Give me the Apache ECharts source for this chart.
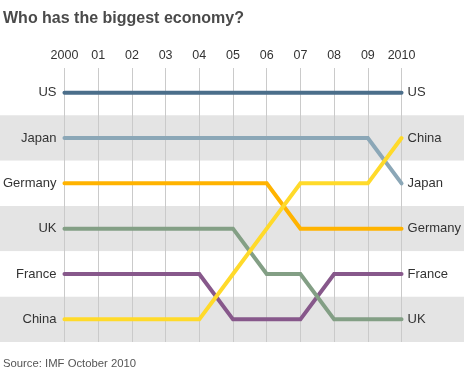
<!DOCTYPE html>
<html>
<head>
<meta charset="utf-8">
<script src="https://cdn.jsdelivr.net/npm/echarts@6/dist/echarts.min.js"></script>
<style>
  html, body { margin: 0; padding: 0; background: #fff; }
  #chart { width: 464px; height: 375px; }
</style>
</head>
<body>
<div id="chart"></div>
<script>
// x axis labels
var years = ['2000', '01', '02', '03', '04', '05', '06', '07', '08', '09', '2010'];
// ranking order at start and at end (top to bottom)
var startOrder = ['US', 'Japan', 'Germany', 'UK', 'France', 'China'];
var endOrder = ['US', 'China', 'Japan', 'Germany', 'France', 'UK'];
// rank per year, 0 = biggest
var usRank      = [0, 0, 0, 0, 0, 0, 0, 0, 0, 0, 0];
var japanRank   = [1, 1, 1, 1, 1, 1, 1, 1, 1, 1, 2];
var germanyRank = [2, 2, 2, 2, 2, 2, 2, 3, 3, 3, 3];
var ukRank      = [3, 3, 3, 3, 3, 3, 4, 4, 5, 5, 5];
var franceRank  = [4, 4, 4, 4, 4, 5, 5, 5, 4, 4, 4];
var chinaRank   = [5, 5, 5, 5, 5, 4, 3, 2, 2, 2, 1];

var chart = echarts.init(document.getElementById('chart'));

function line(name, data, color, z) {
  return {
    name: name,
    type: 'line',
    xAxisIndex: 0,
    yAxisIndex: 0,
    data: data,
    symbol: 'none',
    z: z,
    lineStyle: { color: color, width: 4, cap: 'round', join: 'miter' },
    animation: false
  };
}

var font = '"Liberation Sans", Arial, sans-serif';

var option = {
  backgroundColor: '#fff',
  animation: false,
  title: [{
    text: 'Who has the biggest economy?',
    left: 3, top: 11, padding: 0,
    textStyle: { fontFamily: font, fontSize: 16, fontWeight: 'bold', color: '#4a4a4a' }
  }, {
    text: 'Source: IMF October 2010',
    left: 3, top: 358, padding: 0,
    textStyle: { fontFamily: font, fontSize: 11.3, fontWeight: 'normal', color: '#555' }
  }],
  grid: [
    { left: 63, right: 61, top: 70, bottom: 33 },
    { left: 0, right: 0, top: 70, bottom: 33, z: 0 }
  ],
  xAxis: [{
    type: 'category',
    gridIndex: 0,
    data: years,
    position: 'top',
    boundaryGap: false,
    axisLine: { show: false },
    axisTick: { show: true, length: 2, interval: 0, lineStyle: { color: '#ccc' } },
    axisLabel: { fontFamily: font, fontSize: 12.5, color: '#333', margin: 8, interval: 0 },
    splitLine: { show: true, interval: 0, lineStyle: { color: '#cacaca', width: 1 } },
    z: 3
  }, {
    type: 'category',
    gridIndex: 1,
    data: years,
    show: false
  }],
  yAxis: [{
    type: 'category',
    gridIndex: 0,
    data: startOrder,
    inverse: true,
    position: 'left',
    axisLine: { show: false },
    axisTick: { show: false },
    axisLabel: { fontFamily: font, fontSize: 13, color: '#333', margin: 8 }
  }, {
    type: 'category',
    gridIndex: 0,
    data: endOrder,
    inverse: true,
    position: 'right',
    axisLine: { show: false },
    axisTick: { show: false },
    axisLabel: { fontFamily: font, fontSize: 13, color: '#333', margin: 6 }
  }, {
    type: 'category',
    gridIndex: 1,
    data: startOrder,
    inverse: true,
    axisLine: { show: false },
    axisTick: { show: false },
    axisLabel: { show: false },
    splitArea: { show: true, areaStyle: { color: ['#ffffff', '#e4e4e4'] } },
    z: 0
  }],
  series: [
    { type: 'line', xAxisIndex: 1, yAxisIndex: 2, data: [], silent: true },
    line('US', usRank, '#4b6e8a', 5),
    line('Japan', japanRank, '#8ba7b7', 5),
    line('Germany', germanyRank, '#ffb300', 5),
    line('UK', ukRank, '#839f85', 6),
    line('France', franceRank, '#87588b', 5),
    line('China', chinaRank, '#ffda2a', 7)
  ]
};

chart.setOption(option);
</script>
</body>
</html>
